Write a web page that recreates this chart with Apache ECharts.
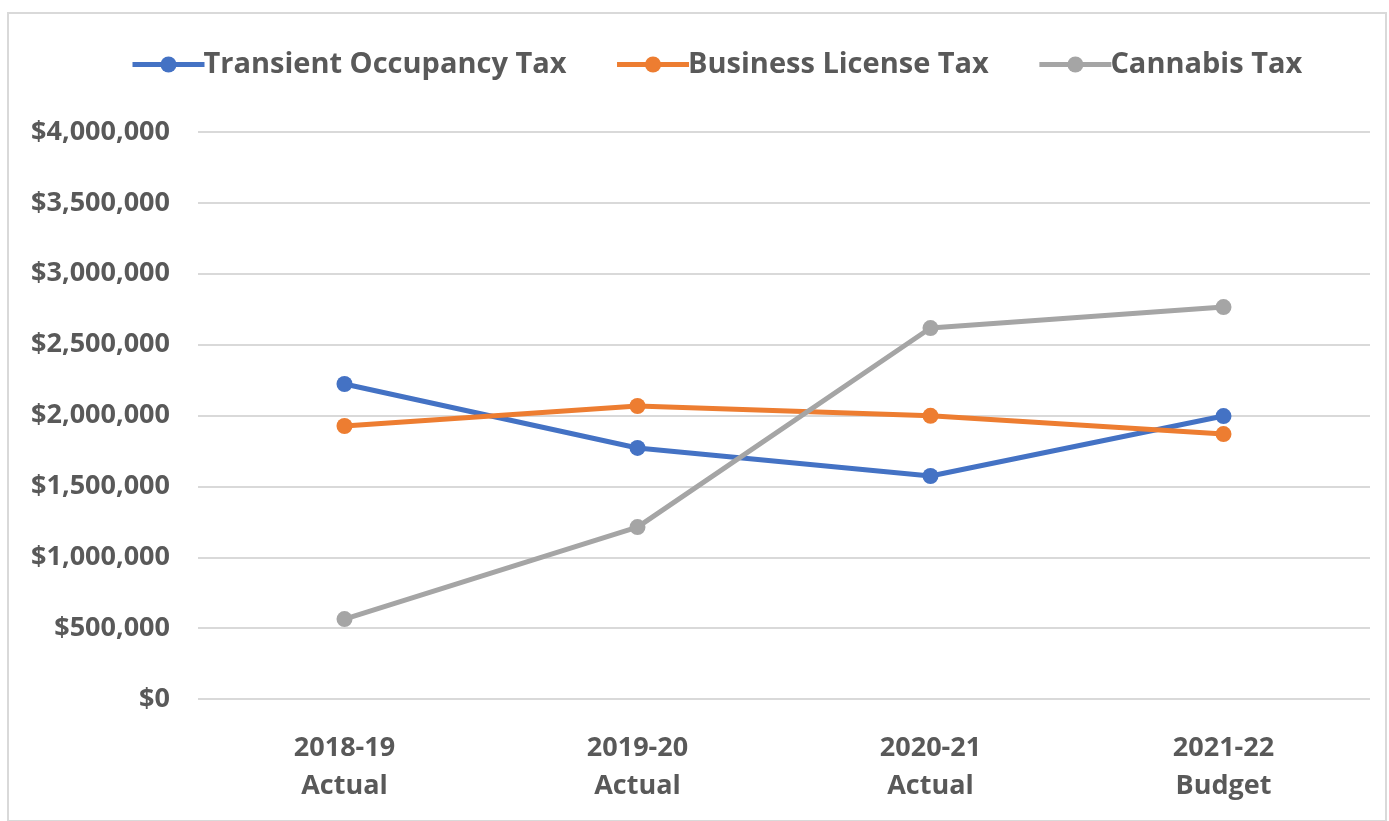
<!DOCTYPE html>
<html><head><meta charset="utf-8">
<script src="https://cdn.jsdelivr.net/npm/echarts@6/dist/echarts.min.js"></script>
<style>html,body{margin:0;padding:0;background:#fff}#c{width:1389px;height:821px}
#frame{position:absolute;left:7px;top:12px;width:1380px;height:810px;border:2px solid #d9d9d9;box-sizing:border-box;pointer-events:none}</style>
</head><body><div id="c"></div><div id="frame"></div>
<script>
const categories = ['2018-19\nActual', '2019-20\nActual', '2020-21\nActual', '2021-22\nBudget'];
const transientOccupancy = [2222000, 1771000, 1573000, 1996000];
const businessLicense = [1926000, 2067000, 1998000, 1869000];
const cannabis = [564000, 1213000, 2617000, 2765000];
const seriesNames = ['Transient Occupancy Tax', 'Business License Tax', 'Cannabis Tax'];
const colors = ['#4472C4', '#ED7D31', '#A5A5A5'];
const font = '"Open Sans", Lato, sans-serif';
const chart = echarts.init(document.getElementById('c'));
const mk = (name, data, color) => ({
  name, type: 'line', data, symbol: 'circle', symbolSize: 16,
  lineStyle: {width: 5, color}, itemStyle: {color}, animation: false
});
chart.setOption({
  animation: false,
  color: colors,
  legend: {
    top: 45, left: 125, itemWidth: 72, itemHeight: 20, itemGap: 48,
    lineStyle: {width: 5},
    textStyle: {fontFamily: font, fontSize: 29, fontWeight: 700, color: '#595959', padding: [0,0,0,-6]},
    data: seriesNames
  },
  grid: {left: 198, right: 19, top: 132, bottom: 122},
  xAxis: {
    type: 'category', data: categories, boundaryGap: true,
    axisLine: {show: false}, axisTick: {show: false},
    axisLabel: {fontFamily: font, fontSize: 27, fontWeight: 700, color: '#595959', lineHeight: 38, margin: 30}
  },
  yAxis: {
    type: 'value', min: 0, max: 4000000, interval: 500000,
    axisLine: {show: false}, axisTick: {show: false},
    splitLine: {lineStyle: {color: '#d9d9d9', width: 2}},
    axisLabel: {fontFamily: font, fontSize: 27, fontWeight: 700, color: '#595959', margin: 28,
      formatter: v => '$' + v.toLocaleString('en-US')}
  },
  series: [
    mk(seriesNames[0], transientOccupancy, colors[0]),
    mk(seriesNames[1], businessLicense, colors[1]),
    mk(seriesNames[2], cannabis, colors[2])
  ]
});
</script></body></html>
